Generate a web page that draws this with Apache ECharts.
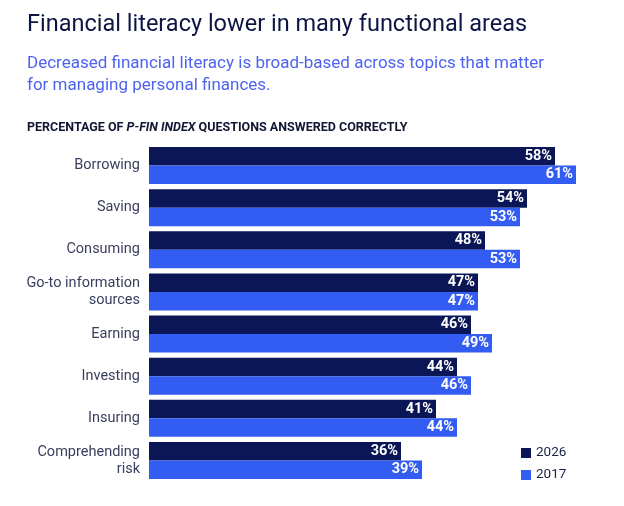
<!DOCTYPE html>
<html>
<head>
<meta charset="utf-8">
<script src="https://cdn.jsdelivr.net/npm/echarts@6/dist/echarts.min.js"></script>
<style>
html,body{margin:0;padding:0;background:#fff;}
#chart{width:624px;height:506px;}
</style>
</head>
<body>
<div id="chart"></div>
<script>
// 数据
var categories = ['Borrowing', 'Saving', 'Consuming', 'Go-to information\nsources', 'Earning', 'Investing', 'Insuring', 'Comprehending\nrisk'];
var values2026 = [58, 54, 48, 47, 46, 44, 41, 36];
var values2017 = [61, 53, 53, 47, 49, 46, 44, 39];
var seriesNames = ['2026', '2017'];

var darkBlue = '#0b1656';
var lightBlue = '#335df2';

var myChart = echarts.init(document.getElementById('chart'));

var barLabel = {
	show: true,
	position: 'insideRight',
	distance: 3,
	color: '#fff',
	fontFamily: 'Roboto',
	fontWeight: 'bold',
	fontSize: 14.5,
	formatter: '{c}%'
};

option = {
	animation: false,
	title: [
		{
			text: 'Financial literacy lower in many functional areas',
			left: 22, top: 8,
			textStyle: {fontFamily: 'Roboto', fontWeight: 'normal', fontSize: 23.5, color: '#0d1544'}
		},
		{
			text: 'Decreased financial literacy is broad-based across topics that matter\nfor managing personal finances.',
			left: 22, top: 48,
			textStyle: {fontFamily: 'Roboto', fontWeight: 'normal', fontSize: 17, lineHeight: 22, color: '#4d63f0'}
		},
		{
			text: 'PERCENTAGE OF {i|P-FIN INDEX} QUESTIONS ANSWERED CORRECTLY',
			left: 22, top: 116,
			textStyle: {
				fontFamily: 'Roboto', fontWeight: 'bold', fontSize: 12.5, color: '#111633',
				rich: {i: {fontFamily: 'Roboto', fontWeight: 'bold', fontStyle: 'italic', fontSize: 12.5, color: '#111633'}}
			}
		}
	],
	legend: {
		orient: 'vertical',
		left: 516, top: 441,
		itemWidth: 10, itemHeight: 10, itemGap: 8,
		icon: 'rect',
		data: seriesNames,
		textStyle: {fontFamily: 'Roboto', fontSize: 13.5, color: '#1b2048'}
	},
	grid: {left: 149, top: 144.5, width: 469, height: 337},
	xAxis: {
		type: 'value', min: 0, max: 67,
		show: false
	},
	yAxis: {
		type: 'category',
		inverse: true,
		data: categories,
		axisLine: {show: false},
		axisTick: {show: false},
		axisLabel: {
			margin: 9,
			fontFamily: 'Roboto', fontSize: 14.5, lineHeight: 17, color: '#3a3e5e', align: 'right'
		}
	},
	series: [
		{
			name: seriesNames[0], type: 'bar', data: values2026,
			barWidth: 18.5, barGap: '0%',
			itemStyle: {color: darkBlue},
			label: barLabel
		},
		{
			name: seriesNames[1], type: 'bar', data: values2017,
			barWidth: 18.5, barGap: '0%',
			itemStyle: {color: lightBlue},
			label: barLabel
		}
	]
};

myChart.setOption(option);
</script>
</body>
</html>
